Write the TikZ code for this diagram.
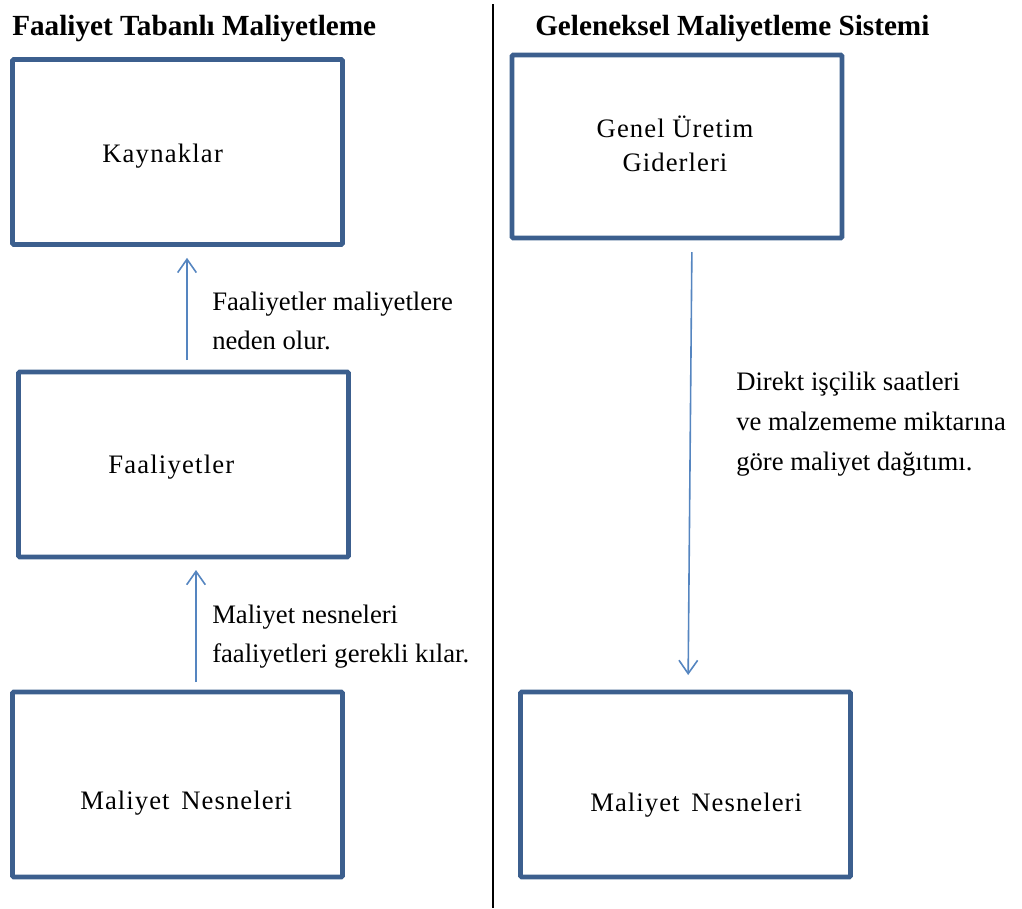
\documentclass[tikz,border=0pt]{standalone}
\usepackage{fontspec}
\setmainfont{Liberation Serif}
\usetikzlibrary{arrows.meta}
\definecolor{boxblue}{HTML}{3C5F8E}
\definecolor{arrowblue}{HTML}{5585C0}
\begin{document}
\begin{tikzpicture}[x=0.75pt,y=-0.75pt,
  box/.style={draw=boxblue,line width=3.6pt,inner sep=0pt,outer sep=0pt,minimum width=247.5pt,minimum height=138.75pt,rounded corners=1pt},
  conn/.style={draw=arrowblue,line width=1.2pt,-{Straight Barb[length=10pt,width=14pt]}},
  ttl/.style={anchor=base west,inner sep=0pt,font=\fontsize{21.9}{26}\selectfont\bfseries},
  txt/.style={anchor=base west,inner sep=0pt,font=\fontsize{20}{24}\selectfont},
  boxtxt/.style={anchor=base west,inner sep=0pt,font=\fontsize{20}{24}\selectfont\addfontfeature{LetterSpace=4.5}}]
\useasboundingbox (0,0) rectangle (1022,908);
% boxes
\node[box] (K) at (177.5,152) {};
\node[box] (F) at (183.5,464.5) {};
\node[box] (M1) at (177.5,784.5) {};
\node[box,minimum height=137.25pt] (G) at (677,146.5) {};
\node[box] (M2) at (685.5,784.5) {};
% titles
\node[ttl] (t1) at (12,35) {Faaliyet Tabanlı Maliyetleme};
\node[ttl] (t2) at (535,35) {Geleneksel Maliyetleme Sistemi};
% box texts
\node[boxtxt] (k) at (102,162) {Kaynaklar};
\node[boxtxt] (f) at (108,473) {Faaliyetler};
\node[boxtxt,font=\fontsize{20}{24}\selectfont\addfontfeature{LetterSpace=4}] (m1) at (80,809) {Maliyet\ \hspace{0.15em}Nesneleri};
\node[boxtxt,font=\fontsize{20}{24}\selectfont\addfontfeature{LetterSpace=4}] (m2) at (590,811) {Maliyet\ \hspace{0.15em}Nesneleri};
\node[boxtxt,anchor=base,font=\fontsize{20}{25.5}\selectfont\addfontfeature{LetterSpace=4}] (g) at (675,137) {\begin{tabular}[t]{@{}c@{}}Genel Üretim\\Giderleri\end{tabular}};
% connector labels
\node[txt,font=\fontsize{20}{29.25}\selectfont] (l1) at (212,310) {\begin{tabular}[t]{@{}l@{}}Faaliyetler maliyetlere\\neden olur.\end{tabular}};
\node[txt,font=\fontsize{20}{29.25}\selectfont] (l2) at (212,623) {\begin{tabular}[t]{@{}l@{}}Maliyet nesneleri\\faaliyetleri gerekli kılar.\end{tabular}};
\node[txt,font=\fontsize{20}{30}\selectfont] (l3) at (736,390) {\begin{tabular}[t]{@{}l@{}}Direkt işçilik saatleri\\ve malzememe miktarına\\göre maliyet dağıtımı.\end{tabular}};
% divider
\coordinate (d1) at (493,4);
\coordinate (d2) at (493,908);
\draw[line width=1.5pt] (d1) -- (d2);
% connectors
\coordinate (x1) at (187,0);
\coordinate (x2) at (196,0);
\coordinate (x3) at (692,0);
\coordinate (x4) at (688,0);
\draw[conn,shorten <=9pt,shorten >=10pt] (F.north -| x1) -- (K.south -| x1);
\draw[conn,shorten <=7.5pt,shorten >=9.75pt] (M1.north -| x2) -- (F.south -| x2);
\draw[conn,shorten <=10.5pt,shorten >=12.75pt] (G.south -| x3) -- (M2.north -| x4);
\end{tikzpicture}
\end{document}
